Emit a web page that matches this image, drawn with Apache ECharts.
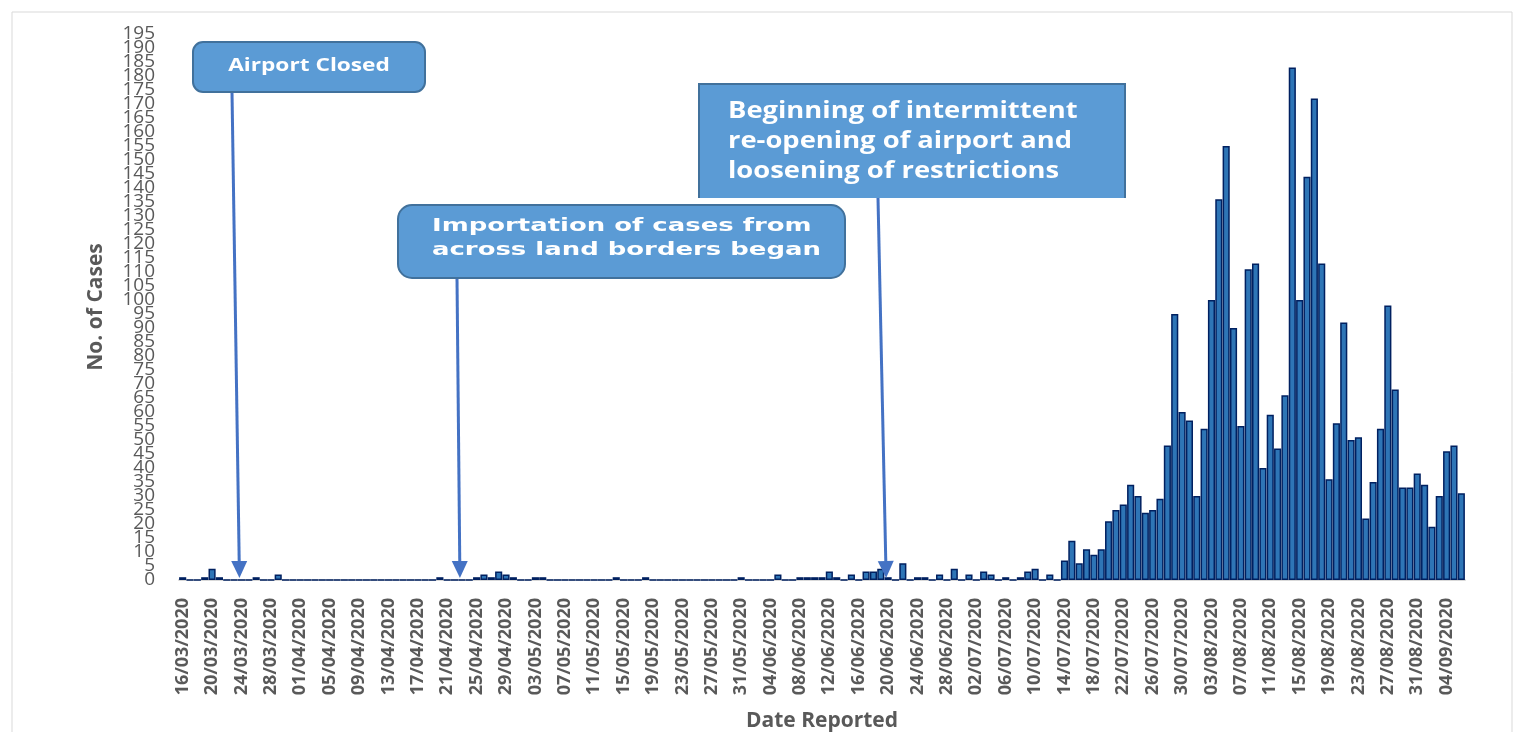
<!DOCTYPE html>
<html>
<head>
<meta charset="utf-8">
<script src="https://cdn.jsdelivr.net/npm/echarts@6/dist/echarts.min.js"></script>
<style>
html,body{margin:0;padding:0;background:#fff;}
#c{width:1522px;height:732px;}
</style>
</head>
<body>
<div id="c"></div>
<script>
const dates = [
'16/03/2020','17/03/2020','18/03/2020','19/03/2020','20/03/2020','21/03/2020','22/03/2020','23/03/2020','24/03/2020','25/03/2020','26/03/2020','27/03/2020','28/03/2020','29/03/2020','30/03/2020','31/03/2020',
'01/04/2020','02/04/2020','03/04/2020','04/04/2020','05/04/2020','06/04/2020','07/04/2020','08/04/2020','09/04/2020','10/04/2020','11/04/2020','12/04/2020','13/04/2020','14/04/2020','15/04/2020','16/04/2020','17/04/2020','18/04/2020','19/04/2020','20/04/2020','21/04/2020','22/04/2020','23/04/2020','24/04/2020','25/04/2020','26/04/2020','27/04/2020','28/04/2020','29/04/2020','30/04/2020',
'01/05/2020','02/05/2020','03/05/2020','04/05/2020','05/05/2020','06/05/2020','07/05/2020','08/05/2020','09/05/2020','10/05/2020','11/05/2020','12/05/2020','13/05/2020','14/05/2020','15/05/2020','16/05/2020','17/05/2020','18/05/2020','19/05/2020','20/05/2020','21/05/2020','22/05/2020','23/05/2020','24/05/2020','25/05/2020','26/05/2020','27/05/2020','28/05/2020','29/05/2020','30/05/2020','31/05/2020',
'01/06/2020','02/06/2020','03/06/2020','04/06/2020','05/06/2020','06/06/2020','07/06/2020','08/06/2020','09/06/2020','10/06/2020','11/06/2020','12/06/2020','13/06/2020','14/06/2020','15/06/2020','16/06/2020','17/06/2020','18/06/2020','19/06/2020','20/06/2020','21/06/2020','22/06/2020','23/06/2020','24/06/2020','25/06/2020','26/06/2020','27/06/2020','28/06/2020','29/06/2020','30/06/2020',
'01/07/2020','02/07/2020','03/07/2020','04/07/2020','05/07/2020','06/07/2020','07/07/2020','08/07/2020','09/07/2020','10/07/2020','11/07/2020','12/07/2020','13/07/2020','14/07/2020','15/07/2020','16/07/2020','17/07/2020','18/07/2020','19/07/2020','20/07/2020','21/07/2020','22/07/2020','23/07/2020','24/07/2020','25/07/2020','26/07/2020','27/07/2020','28/07/2020','29/07/2020','30/07/2020','31/07/2020',
'01/08/2020','02/08/2020','03/08/2020','04/08/2020','05/08/2020','06/08/2020','07/08/2020','08/08/2020','09/08/2020','10/08/2020','11/08/2020','12/08/2020','13/08/2020','14/08/2020','15/08/2020','16/08/2020','17/08/2020','18/08/2020','19/08/2020','20/08/2020','21/08/2020','22/08/2020','23/08/2020','24/08/2020','25/08/2020','26/08/2020','27/08/2020','28/08/2020','29/08/2020','30/08/2020','31/08/2020',
'01/09/2020','02/09/2020','03/09/2020','04/09/2020','05/09/2020','06/09/2020'
];

const casesMar = [1,0,0,1,4,1,0,0,0,0,1,0,0,2,0,0];
const casesApr = [0,0,0,0,0,0,0,0,0,0,0,0,0,0,0,0,0,0,0,1,0,0,0,0,1,2,1,3,2,1];
const casesMay = [0,0,1,1,0,0,0,0,0,0,0,0,0,1,0,0,0,1,0,0,0,0,0,0,0,0,0,0,0,0,1];
const casesJun = [0,0,0,0,2,0,0,1,1,1,1,3,1,0,2,0,3,3,4,1,0,6,0,1,1,0,2,0,4,0];
const casesJul = [2,0,3,2,0,1,0,1,3,4,0,2,0,7,14,6,11,9,11,21,25,27,34,30,24,25,29,48,95,60,57];
const casesAug = [30,54,100,136,155,90,55,111,113,40,59,47,66,183,100,144,172,113,36,56,92,50,51,22,35,54,98,68,33,33,38];
const casesSep = [34,19,30,46,48,31];
const cases = [].concat(casesMar, casesApr, casesMay, casesJun, casesJul, casesAug, casesSep);

const yMin = 0;
const yMax = 195;
const yStep = 5;

const annotations = [
  { id: 'a1', date: '24/03/2020', text: 'Airport Closed' },
  { id: 'a2', date: '23/04/2020', text: 'Importation of cases from\nacross land borders began' },
  { id: 'a3', date: '20/06/2020', text: 'Beginning of intermittent\nre-opening of airport and\nloosening of restrictions' }
];

const grey = '#595959';
const chart = echarts.init(document.getElementById('c'));

const yLabelStyle = { color: grey, fontSize: 19, margin: 24, fontFamily: 'Open Sans' };

const option = {
  backgroundColor: '#ffffff',
  animation: false,
  grid: { left: 179, right: 57, top: 34, bottom: 152, outerBoundsMode: 'none', containLabel: false },
  xAxis: {
    type: 'category',
    data: dates,
    name: 'Date Reported',
    nameLocation: 'middle',
    nameGap: 131,
    nameTextStyle: { color: grey, fontSize: 21, fontWeight: 'bold', fontFamily: 'Open Sans' },
    axisLine: { show: true, lineStyle: { color: '#d9d9d9', width: 2 } },
    axisTick: { show: false },
    axisLabel: {
      interval: 3,
      rotate: 90,
      margin: 18,
      color: grey,
      fontSize: 18,
      fontWeight: 'bold',
      fontFamily: 'Open Sans'
    }
  },
  yAxis: [{
    type: 'value',
    min: yMin,
    max: yMax,
    interval: yStep,
    name: 'No. of Cases',
    nameLocation: 'middle',
    nameGap: 72,
    nameRotate: 90,
    nameTextStyle: { color: grey, fontSize: 21, fontWeight: 'bold', fontFamily: 'Open Sans' },
    axisLine: { show: false },
    axisTick: { show: false },
    splitLine: { show: false },
    axisLabel: Object.assign({ showMinLabel: false, showMaxLabel: false }, yLabelStyle)
  }, {
    type: 'value',
    position: 'left',
    min: yMin,
    max: yMax,
    interval: yStep,
    axisLine: { show: false },
    axisTick: { show: false },
    splitLine: { show: false },
    axisLabel: Object.assign({
      showMinLabel: true, showMaxLabel: true,
      formatter: v => (v === yMin || v === yMax) ? String(v) : ''
    }, yLabelStyle)
  }],
  series: [{
    type: 'bar',
    data: cases,
    yAxisIndex: 0,
    barCategoryGap: '3%',
    itemStyle: { color: '#2e75b6', borderColor: '#002060', borderWidth: 1.5 }
  }]
};
chart.setOption(option);

const boxes = {
  a1: { x: 193, y: 42, w: 232, h: 50, r: 10, tx: 309, ty: 66, align: 'center', font: 'bold 18px "Open Sans"', lh: 24, sx: 1.26, top: [232, 92] },
  a2: { x: 398, y: 205, w: 447, h: 73, r: 14, tx: 432, ty: 238, align: 'left', font: 'bold 18px "DejaVu Sans"', lh: 24, sx: 1.44, top: [457, 278] },
  a3: { x: 699, y: 84, w: 426, h: 114, r: 0, tx: 728, ty: 141, align: 'left', font: 'bold 24px "Open Sans"', lh: 30, sx: 1.14, top: [878, 198], open: true }
};

function buildGraphics() {
  const els = [{
    type: 'rect', id: 'frame', silent: true, z: 0,
    shape: { x: 12, y: 12, width: 1500, height: 740 },
    style: { fill: 'none', stroke: '#d9d9d9', lineWidth: 1 }
  }];
  annotations.forEach(a => {
    const b = boxes[a.id];
    const tip = chart.convertToPixel({ xAxisIndex: 0, yAxisIndex: 0 }, [a.date, 0]);
    const tx = tip[0] - 2, ty = tip[1] - 2;
    const sx = b.top[0], sy = b.top[1];
    let dx = tx - sx, dy = ty - sy;
    const len = Math.sqrt(dx * dx + dy * dy);
    dx /= len; dy /= len;
    const hl = 17, hw = 8;
    const bx = tx - dx * hl, by = ty - dy * hl;
    const nx = -dy, ny = dx;
    els.push({
      type: 'line', id: a.id + '_line', z: 10, silent: true,
      shape: { x1: sx, y1: sy, x2: bx, y2: by },
      style: { stroke: '#4472c4', lineWidth: 3 }
    });
    els.push({
      type: 'polygon', id: a.id + '_head', z: 10, silent: true,
      shape: { points: [[tx, ty], [bx + nx * hw, by + ny * hw], [bx - nx * hw, by - ny * hw]] },
      style: { fill: '#4472c4' }
    });
    if (b.open) {
      els.push({
        type: 'rect', id: a.id + '_box', z: 20, silent: true,
        shape: { x: b.x, y: b.y, width: b.w, height: b.h },
        style: { fill: '#5b9bd5' }
      });
      els.push({
        type: 'polyline', id: a.id + '_edge', z: 21, silent: true,
        shape: { points: [[b.x, b.y + b.h], [b.x, b.y], [b.x + b.w, b.y], [b.x + b.w, b.y + b.h]] },
        style: { stroke: '#41719c', lineWidth: 2, fill: 'none' }
      });
    } else {
      els.push({
        type: 'rect', id: a.id + '_box', z: 20, silent: true,
        shape: { x: b.x, y: b.y, width: b.w, height: b.h, r: b.r },
        style: { fill: '#5b9bd5', stroke: '#41719c', lineWidth: 2 }
      });
    }
    els.push({
      type: 'text', id: a.id + '_text', z: 22, silent: true,
      x: b.tx, y: b.ty, scaleX: b.sx,
      style: {
        text: a.text, fill: '#ffffff', font: b.font, lineHeight: b.lh,
        align: b.align, verticalAlign: 'middle'
      }
    });
  });
  return els;
}
chart.setOption({ graphic: { elements: buildGraphics() } });
</script>
</body>
</html>
